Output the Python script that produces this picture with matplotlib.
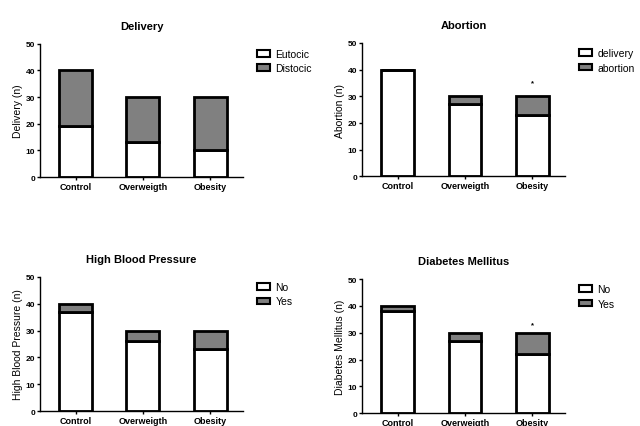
import matplotlib.pyplot as plt
from matplotlib.patches import Patch

plt.rcParams['font.family'] = ['Liberation Sans', 'DejaVu Sans']

# dati
groups = ["Control", "Overweigth", "Obesity"]

delivery_eutocic = [19, 13, 10]
delivery_distocic = [21, 17, 20]

abortion_delivery = [40, 27, 23]
abortion_abortion = [0, 3, 7]

hbp_no = [37, 26, 23]
hbp_yes = [3, 4, 7]

dm_no = [38, 27, 22]
dm_yes = [2, 3, 8]

# asterischi (indice gruppo, altezza)
abortion_star = (2, 35)
dm_star = (2, 33)

panels = [
    ("Delivery", "Delivery (n)", delivery_eutocic, delivery_distocic, ["Eutocic", "Distocic"], None,
     [0.0625, 0.583, 0.3175, 0.312]),
    ("Abortion", "Abortion (n)", abortion_delivery, abortion_abortion, ["delivery", "abortion"], abortion_star,
     [0.566, 0.585, 0.317, 0.312]),
    ("High Blood Pressure", "High Blood Pressure (n)", hbp_no, hbp_yes, ["No", "Yes"], None,
     [0.0625, 0.035, 0.3175, 0.314]),
    ("Diabetes Mellitus", "Diabetes Mellitus (n)", dm_no, dm_yes, ["No", "Yes"], dm_star,
     [0.566, 0.030, 0.317, 0.314]),
]

fig = plt.figure(figsize=(6.4, 4.27), dpi=100)

x = range(len(groups))
for title, ylabel, low, high, leg, star, pos in panels:
    ax = fig.add_axes(pos)
    ax.bar(x, low, width=0.49, color="white", edgecolor="black", linewidth=2)
    ax.bar(x, high, bottom=low, width=0.49, color="#808080", edgecolor="black", linewidth=2)
    if star is not None:
        ax.text(star[0], star[1], "*", ha="center", va="center", fontsize=5.5, fontweight="bold")
    ax.set_xlim(-0.53, 2.49)
    ax.set_ylim(0, 50)
    ax.set_yticks([0, 10, 20, 30, 40, 50])
    ax.set_xticks(list(x))
    ax.set_xticklabels(groups, fontsize=6.5, fontweight="bold")
    for lab in ax.get_yticklabels():
        lab.set_fontsize(6)
        lab.set_fontweight("bold")
    ax.tick_params(axis="y", length=2.5, width=1, pad=1)
    ax.tick_params(axis="x", length=2.5, width=1, pad=1)
    ax.spines["top"].set_visible(False)
    ax.spines["right"].set_visible(False)
    ax.spines["left"].set_linewidth(1)
    ax.spines["bottom"].set_linewidth(1)
    ax.set_ylabel(ylabel, fontsize=7.5, labelpad=2)
    ax.set_title(title, fontsize=8, fontweight="bold", pad=11)
    handles = [Patch(facecolor="white", edgecolor="black", linewidth=1.5),
               Patch(facecolor="#808080", edgecolor="black", linewidth=1.5)]
    ax.legend(handles, leg, loc="upper left", bbox_to_anchor=(1.02, 1.03), frameon=False,
              fontsize=7.5, handlelength=1.3, handleheight=0.6, handletextpad=0.5, labelspacing=0.4)

fig.savefig("out.png", dpi=100)
